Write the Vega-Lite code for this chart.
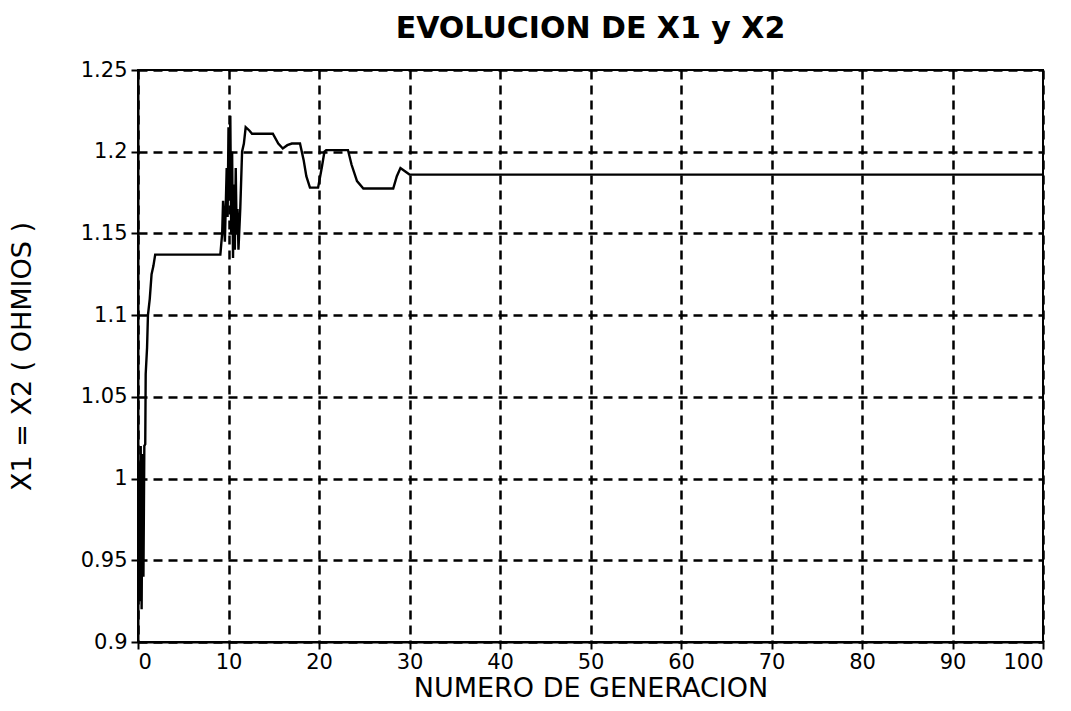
{
  "$schema": "https://vega.github.io/schema/vega-lite/v6.json",
  "width": 905,
  "height": 572,
  "autosize": {"type": "none"},
  "padding": {"left": 138, "top": 70, "right": 28, "bottom": 69},
  "background": "white",
  "title": {
    "text": "EVOLUCION DE X1 y X2",
    "font": "DejaVu Sans",
    "fontSize": 30,
    "fontWeight": "bold",
    "color": "black",
    "anchor": "middle",
    "offset": 15
  },
  "config": {
    "view": {"stroke": "black", "strokeWidth": 2},
    "axis": {
      "labelFont": "DejaVu Sans",
      "labelFontSize": 21,
      "labelColor": "black",
      "titleFont": "DejaVu Sans",
      "titleFontSize": 27,
      "titleFontWeight": "normal",
      "titleColor": "black",
      "domainColor": "black",
      "domainWidth": 2,
      "tickColor": "black",
      "tickWidth": 2,
      "tickSize": 7,
      "gridColor": "black",
      "gridOpacity": 1,
      "gridWidth": 2.5,
      "gridDash": [9, 6]
    }
  },
  "data": {
    "values": [
      {"gen": 0.0, "x": 0.93},
      {"gen": 0.1, "x": 1.01},
      {"gen": 0.2, "x": 0.925},
      {"gen": 0.3, "x": 1.02},
      {"gen": 0.4, "x": 0.92},
      {"gen": 0.5, "x": 1.015},
      {"gen": 0.6, "x": 0.94},
      {"gen": 0.7, "x": 1.02},
      {"gen": 0.8, "x": 1.021},
      {"gen": 0.85, "x": 1.064},
      {"gen": 1.0, "x": 1.08},
      {"gen": 1.1, "x": 1.1},
      {"gen": 1.3, "x": 1.11},
      {"gen": 1.5, "x": 1.125},
      {"gen": 1.7, "x": 1.13},
      {"gen": 1.9, "x": 1.137},
      {"gen": 9.1, "x": 1.137},
      {"gen": 9.3, "x": 1.15},
      {"gen": 9.4, "x": 1.17},
      {"gen": 9.6, "x": 1.145},
      {"gen": 9.8, "x": 1.19},
      {"gen": 9.9, "x": 1.16},
      {"gen": 10.0, "x": 1.215},
      {"gen": 10.1, "x": 1.17},
      {"gen": 10.2, "x": 1.222},
      {"gen": 10.3, "x": 1.15},
      {"gen": 10.4, "x": 1.2},
      {"gen": 10.5, "x": 1.135},
      {"gen": 10.6, "x": 1.18},
      {"gen": 10.7, "x": 1.14},
      {"gen": 10.8, "x": 1.19},
      {"gen": 10.9, "x": 1.15},
      {"gen": 11.0, "x": 1.165},
      {"gen": 11.1, "x": 1.14},
      {"gen": 11.3, "x": 1.165},
      {"gen": 11.5, "x": 1.2},
      {"gen": 11.7, "x": 1.205},
      {"gen": 11.9, "x": 1.215},
      {"gen": 12.3, "x": 1.213},
      {"gen": 12.6, "x": 1.211},
      {"gen": 14.9, "x": 1.211},
      {"gen": 15.5, "x": 1.205},
      {"gen": 16.0, "x": 1.202},
      {"gen": 16.5, "x": 1.204},
      {"gen": 17.0, "x": 1.205},
      {"gen": 17.9, "x": 1.205},
      {"gen": 18.3, "x": 1.195},
      {"gen": 18.6, "x": 1.185},
      {"gen": 19.0, "x": 1.178},
      {"gen": 19.9, "x": 1.178},
      {"gen": 20.3, "x": 1.19},
      {"gen": 20.6, "x": 1.2},
      {"gen": 20.8, "x": 1.201},
      {"gen": 23.2, "x": 1.201},
      {"gen": 23.6, "x": 1.192},
      {"gen": 24.2, "x": 1.182},
      {"gen": 24.9, "x": 1.1775},
      {"gen": 28.2, "x": 1.1775},
      {"gen": 28.6, "x": 1.185},
      {"gen": 29.0, "x": 1.19},
      {"gen": 29.5, "x": 1.188},
      {"gen": 30.0, "x": 1.186},
      {"gen": 100.0, "x": 1.186}
    ]
  },
  "mark": {"type": "line", "color": "black", "strokeWidth": 2.4, "clip": true},
  "encoding": {
    "x": {
      "field": "gen",
      "type": "quantitative",
      "scale": {"domain": [0, 100], "nice": false},
      "axis": {"title": "NUMERO DE GENERACION", "values": [0, 10, 20, 30, 40, 50, 60, 70, 80, 90, 100], "labelPadding": 2, "titlePadding": 3}
    },
    "y": {
      "field": "x",
      "type": "quantitative",
      "scale": {"domain": [0.9, 1.25], "nice": false, "zero": false},
      "axis": {"title": "X1 = X2 ( OHMIOS )", "format": "~g", "values": [0.9, 0.95, 1, 1.05, 1.1, 1.15, 1.2, 1.25], "labelPadding": 4, "titlePadding": 44}
    }
  }
}
